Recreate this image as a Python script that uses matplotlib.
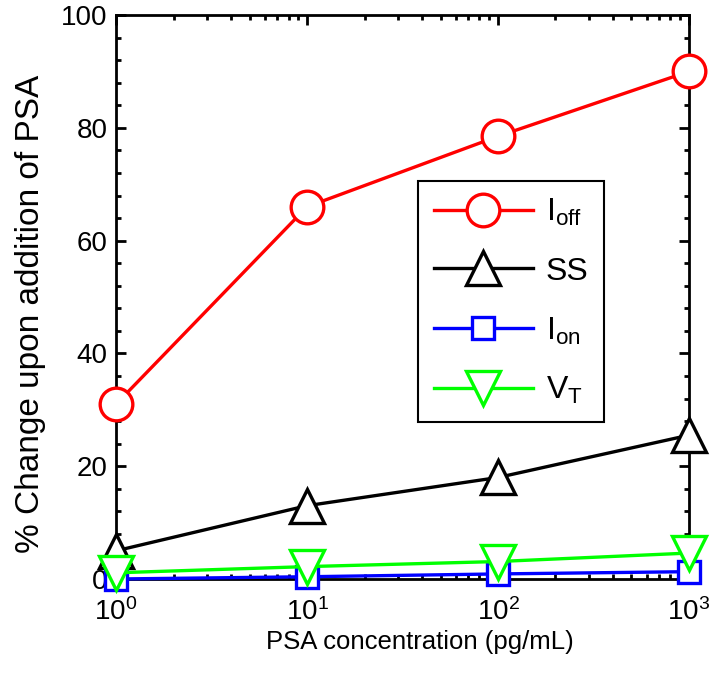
import matplotlib
matplotlib.use("Agg")
import matplotlib.pyplot as plt
from matplotlib.ticker import FixedLocator, MultipleLocator, LogLocator, NullFormatter

plt.rcParams['font.family'] = ['Liberation Sans', 'DejaVu Sans']
plt.rcParams['mathtext.default'] = 'regular'

conc = [1, 10, 100, 1000]
ioff = [31, 66, 78.5, 90]
ss = [5, 13, 18, 25.5]
ion = [0.0, 0.4, 0.9, 1.3]
vt = [1.1, 2.2, 3.1, 4.6]
xtick_labels = [r'$10^{0}$', r'$10^{1}$', r'$10^{2}$', r'$10^{3}$']
labels = [r'$I_{off}$', 'SS', r'$I_{on}$', r'$V_{T}$']

fig = plt.figure(figsize=(7.18, 6.84), dpi=100)
ax = fig.add_axes([0.1616, 0.1535, 0.798, 0.8245])

lw = 2.4
mew = 2.4
ax.plot(conc, ioff, color='#ff0000', lw=lw, marker='o', ms=23.5, mfc='white', mec='#ff0000', mew=mew, clip_on=False, zorder=3, label=labels[0])
ax.plot(conc, ss, color='black', lw=lw, marker='^', ms=24, mfc='white', mec='black', mew=mew, clip_on=False, zorder=3, label=labels[1])
ax.plot(conc, ion, color='#0000ff', lw=lw, marker='s', ms=16, mfc='white', mec='#0000ff', mew=mew, clip_on=False, zorder=3, label=labels[2])
ax.plot(conc, vt, color='#00ff00', lw=lw, marker='v', ms=24, mfc='white', mec='#00ff00', mew=mew, clip_on=False, zorder=3, label=labels[3])

ax.set_xscale('log')
ax.set_xlim(1, 1000)
ax.set_ylim(0, 100)
ax.xaxis.set_major_locator(FixedLocator(conc))
ax.set_xticklabels(xtick_labels)
ax.xaxis.set_minor_locator(LogLocator(base=10, subs=range(2, 10)))
ax.xaxis.set_minor_formatter(NullFormatter())
ax.yaxis.set_major_locator(MultipleLocator(20))
ax.yaxis.set_minor_locator(MultipleLocator(4))

for s in ax.spines.values():
    s.set_linewidth(2.0)
ax.tick_params(which='both', direction='in', top=True, right=True, width=2.0)
ax.tick_params(which='major', length=7, labelsize=20, pad=6)
ax.tick_params(axis='x', which='major', pad=14)
ax.tick_params(which='minor', length=3.5)

ax.set_xlabel('PSA concentration (pg/mL)', fontsize=18.5)
ax.xaxis.set_label_coords(0.53, -0.09)
ax.set_ylabel('% Change upon addition of PSA', fontsize=24)
ax.yaxis.set_label_coords(-0.122, 0.47)

leg = ax.legend(loc='upper left', bbox_to_anchor=(0.527, 0.706), fontsize=23,
                handlelength=3.1, labelspacing=0.9, borderpad=0.5, fancybox=False,
                framealpha=1, edgecolor='black', handletextpad=0.4, borderaxespad=0)
leg.get_frame().set_linewidth(1.5)

fig.savefig('out.png', dpi=100)
